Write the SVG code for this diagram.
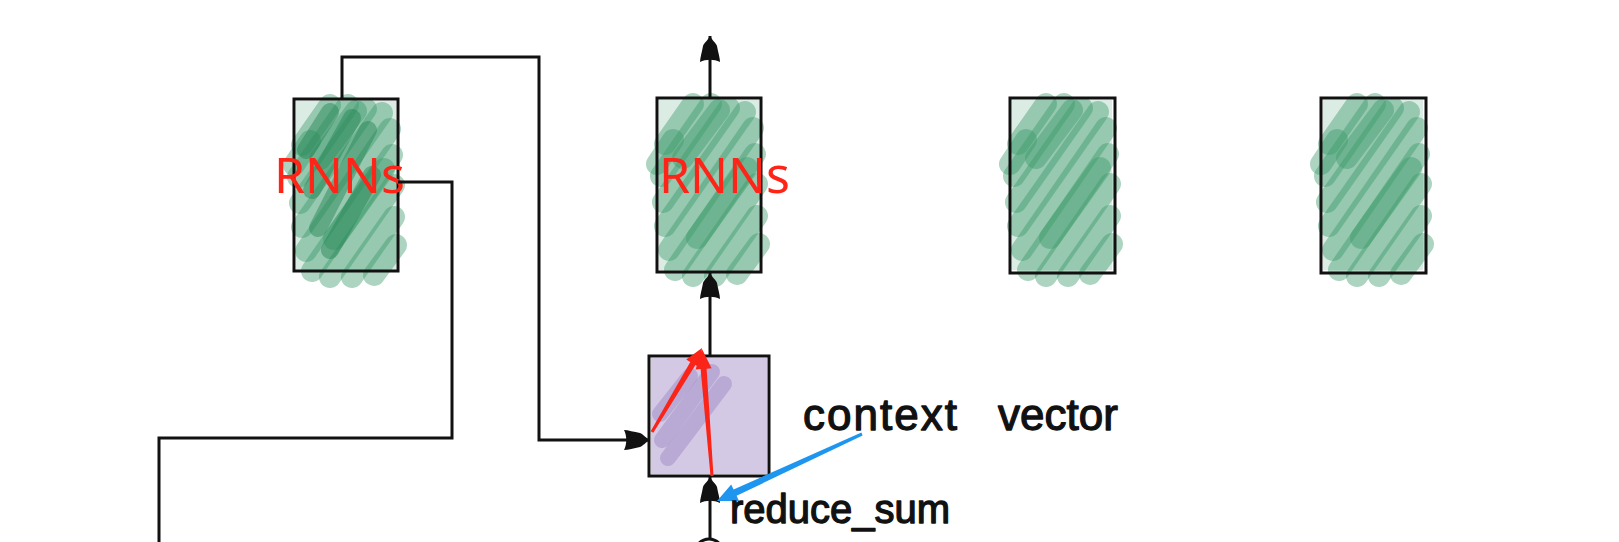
<svg xmlns="http://www.w3.org/2000/svg" width="1619" height="542" viewBox="0 0 1619 542">
<style>
.box{fill:none;stroke:#111;stroke-width:3}
.wire{fill:none;stroke:#111;stroke-width:3}
.sg{fill:none;stroke:#3a9868;stroke-opacity:.42;stroke-width:22;stroke-linecap:round}
.sgd{fill:none;stroke:#1f8050;stroke-opacity:.45;stroke-width:18;stroke-linecap:round}
.sp{fill:none;stroke:#9a83c2;stroke-opacity:.45;stroke-width:16;stroke-linecap:round}
.lbl{font-family:"Noto Sans","Liberation Sans",sans-serif;font-size:50px;fill:#ff2418}
.hand{font-family:"Liberation Sans",sans-serif;fill:#111;stroke:#111;stroke-width:1.3;stroke-linejoin:round}
</style>
<defs>
<marker id="ah" markerUnits="userSpaceOnUse" markerWidth="30" markerHeight="24" refX="26" refY="12" orient="auto" viewBox="0 0 30 24">
<path d="M26,12 C22,10 19,6 16,5 C10,4 4,2 0,2 C3,8 3,16 0,22 C4,22 10,20 16,19 C19,18 22,14 26,12Z" fill="#111"/>
</marker>
<g id="scrib">
<rect x="2" y="2" width="100" height="170" fill="#3a9868" fill-opacity=".18"/>
<path class="sg" d="M8,46 L36,6"/>
<path class="sg" d="M4,78 L54,6"/>
<path class="sg" d="M6,104 L72,10"/>
<path class="sg" d="M8,128 L88,14"/>
<path class="sg" d="M12,152 L96,30"/>
<path class="sg" d="M18,172 L98,56"/>
<path class="sg" d="M36,178 L100,86"/>
<path class="sg" d="M58,178 L100,118"/>
<path class="sg" d="M80,176 L102,146"/>
<path class="sg" d="M0,66 L16,42"/>
<path class="sg" d="M26,60 L62,12"/>
<path class="sg" d="M40,140 L90,70"/>
</g>
</defs>

<g id="node-rnn1">
<use href="#scrib" transform="translate(294,99)"/>
<path class="sgd" d="M312,190 L352,118"/>
<path class="sgd" d="M318,228 L368,130"/>
<path class="sgd" d="M330,250 L372,175"/>
<path class="sgd" d="M306,150 L330,112"/>
<rect class="box" x="294" y="99" width="104" height="172"/>
<text class="lbl" x="339.5" y="193" text-anchor="middle">RNNs</text>
</g>

<g id="node-rnn2">
<use href="#scrib" transform="translate(657,98)"/>
<rect class="box" x="657" y="98" width="104" height="174"/>
<text class="lbl" x="724.5" y="193" text-anchor="middle">RNNs</text>
</g>

<g id="node-rnn3">
<use href="#scrib" transform="translate(1010,98)"/>
<rect class="box" x="1010" y="98" width="105" height="175"/>
</g>

<g id="node-rnn4">
<use href="#scrib" transform="translate(1321,98)"/>
<rect class="box" x="1321" y="98" width="105" height="175"/>
</g>

<g id="node-context">
<rect x="651" y="358" width="116" height="116" fill="#d4c9e5"/>
<path class="sp" d="M662,440 L712,372"/>
<path class="sp" d="M668,458 L724,384"/>
<path class="sp" d="M660,414 L690,376"/>
<rect class="box" x="649" y="356" width="120" height="120"/>
</g>

<g id="node-op">
<circle cx="709" cy="553" r="14" fill="none" stroke="#111" stroke-width="3"/>
</g>

<g id="connectors">
<path class="wire" d="M342,99 L342,57 L539,57 L539,440 L650,440" marker-end="url(#ah)"/>
<path class="wire" d="M398,182 L452,182 L452,438 L159,438 L159,542"/>
<path class="wire" d="M710,98 L710,36" marker-end="url(#ah)"/>
<path class="wire" d="M710,356 L710,273" marker-end="url(#ah)"/>
<path class="wire" d="M710,539 L710,477" marker-end="url(#ah)"/>
</g>

<g id="annotations">
<polygon fill="#fa2418" points="653.3,432.8 695.4,365 699.5,367.5 702,348 686.2,359.6 690.3,362 650.7,431.2"/>
<polygon fill="#fa2418" points="713.5,475.9 706.6,368.7 711.6,368.3 702,349 695.6,369.5 700.6,369.1 710.5,476.1"/>
<polygon fill="#1e96f0" points="862.6,435.4 736.6,495.8 739,501 717,501 731.2,484.4 733.6,489.4 861.4,432.6"/>
<text class="hand" x="803" y="430" font-size="44" textLength="154" lengthAdjust="spacing">context</text>
<text class="hand" x="998" y="430" font-size="44" textLength="120" lengthAdjust="spacing">vector</text>
<text class="hand" x="730" y="523" font-size="40" textLength="220" lengthAdjust="spacing">reduce_sum</text>
</g>
</svg>
